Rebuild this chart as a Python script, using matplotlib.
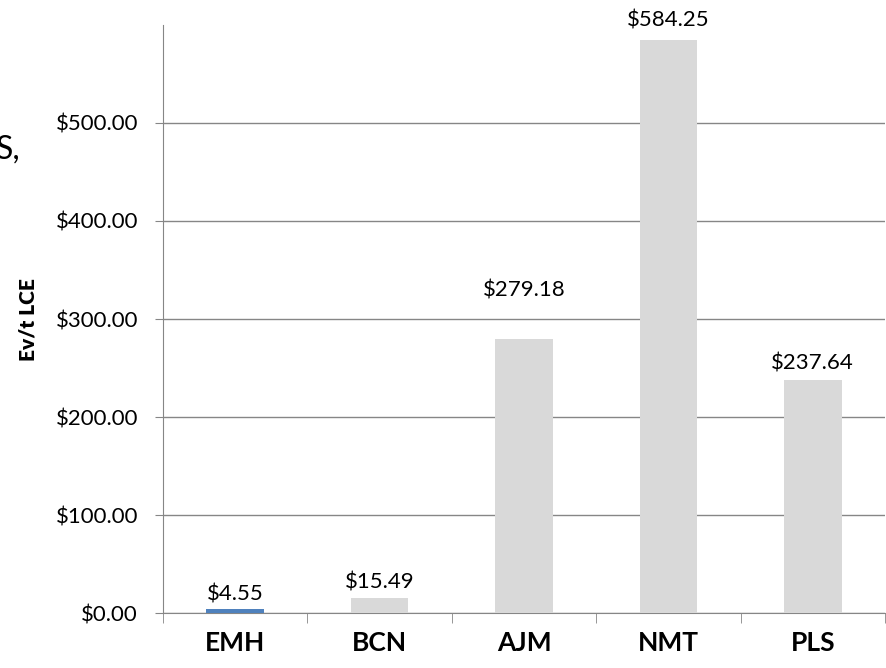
import matplotlib
matplotlib.use("Agg")
from matplotlib import pyplot as plt
from matplotlib.ticker import FuncFormatter

plt.rcParams['font.family'] = ['Lato', 'DejaVu Sans']

# data
tickers = ["EMH", "BCN", "AJM", "NMT", "PLS"]
ev_per_t = [4.55, 15.49, 279.18, 584.25, 237.64]
bar_colors = ["#4F81BD", "#D9D9D9", "#D9D9D9", "#D9D9D9", "#D9D9D9"]
label_pad = [10, 11, 35, 14, 12]  # points from bar top to label centre

fig = plt.figure(figsize=(8.87, 6.68), dpi=100)
ax = fig.add_axes([163/887, 1 - 613/668, 722/887, 588/668])

x = range(len(tickers))
ax.bar(x, ev_per_t, width=0.4, color=bar_colors, zorder=3)
for i, v in enumerate(ev_per_t):
    ax.annotate("${:,.2f}".format(v), (i, v), xytext=(0, label_pad[i]),
                textcoords="offset points", ha="center", va="center", fontsize=16)

ax.set_xlim(-0.5, len(tickers) - 0.5)
ax.set_ylim(0, 600)
ax.set_yticks([0, 100, 200, 300, 400, 500])
ax.yaxis.set_major_formatter(FuncFormatter(lambda v, p: "${:,.2f}".format(v)))
ax.grid(axis="y", color="#868686", linewidth=1, zorder=0)

ax.set_xticks(list(x))
ax.set_xticklabels(tickers, fontsize=19, fontweight="bold")
ax.set_xticks([i - 0.5 for i in range(len(tickers) + 1)], minor=True)
ax.tick_params(axis="x", which="major", length=0, pad=13)
ax.tick_params(axis="x", which="minor", length=7, color="#868686")
ax.tick_params(axis="y", length=6, color="#868686", labelsize=16, pad=12)

for s in ["top", "right"]:
    ax.spines[s].set_visible(False)
for s in ["left", "bottom"]:
    ax.spines[s].set_color("#868686")

fig.text(28/887, 1 - 320/668, "Ev/t LCE", fontsize=15, fontweight="heavy",
         rotation=90, ha="center", va="center")

# cut-off title fragment at the left edge
fig.text(-0.005, 1 - 150/668, "S,", fontsize=23, va="center", ha="left")

fig.savefig("out.png", dpi=100)
